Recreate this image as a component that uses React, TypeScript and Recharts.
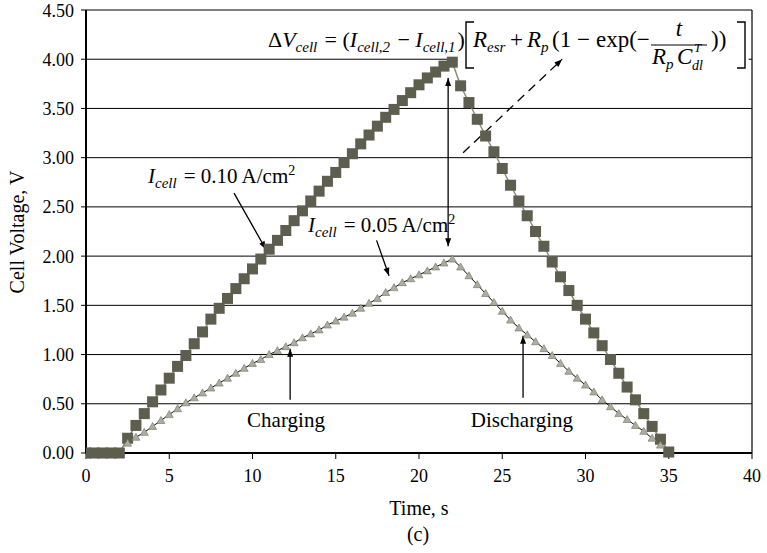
import React from 'react'
import {
  ComposedChart,
  Line,
  XAxis,
  YAxis,
  CartesianGrid,
  ReferenceLine,
  ReferenceArea,
} from 'recharts'

// time axis, s (0.5 s sampling)
const timeHigh = [
  0, 0.5, 1, 1.5, 2, 2.5, 3, 3.5, 4, 4.5, 5, 5.5, 6, 6.5, 7, 7.5, 8, 8.5, 9, 9.5,
  10, 10.5, 11, 11.5, 12, 12.5, 13, 13.5, 14, 14.5, 15, 15.5, 16, 16.5, 17, 17.5,
  18, 18.5, 19, 19.5, 20, 20.5, 21, 21.5, 22, 22.5, 23, 23.5, 24, 24.5, 25, 25.5,
  26, 26.5, 27, 27.5, 28, 28.5, 29, 29.5, 30, 30.5, 31, 31.5, 32, 32.5, 33, 33.5,
  34, 34.5, 35,
]
// I_cell = 0.10 A/cm2
const voltHigh = [
  0, 0, 0, 0, 0, 0.15, 0.28, 0.4, 0.52, 0.64, 0.76, 0.88, 0.99, 1.11, 1.23, 1.36,
  1.47, 1.57, 1.67, 1.77, 1.87, 1.97, 2.07, 2.16, 2.26, 2.36, 2.46, 2.56, 2.66,
  2.76, 2.85, 2.95, 3.04, 3.14, 3.23, 3.32, 3.41, 3.49, 3.58, 3.66, 3.74, 3.81,
  3.87, 3.93, 3.97, 3.73, 3.56, 3.39, 3.22, 3.06, 2.89, 2.72, 2.56, 2.41, 2.25,
  2.1, 1.94, 1.79, 1.65, 1.5, 1.36, 1.22, 1.09, 0.95, 0.81, 0.67, 0.54, 0.4, 0.27,
  0.14, 0.01,
]
const timeLow = [
  2.5, 3, 3.5, 4, 4.5, 5, 5.5, 6, 6.5, 7, 7.5, 8, 8.5, 9, 9.5, 10, 10.5, 11, 11.5,
  12, 12.5, 13, 13.5, 14, 14.5, 15, 15.5, 16, 16.5, 17, 17.5, 18, 18.5, 19, 19.5,
  20, 20.5, 21, 21.5, 22, 22.5, 23, 23.5, 24, 24.5, 25, 25.5, 26, 26.5, 27, 27.5,
  28, 28.5, 29, 29.5, 30, 30.5, 31, 31.5, 32, 32.5, 33, 33.5, 34, 34.5,
]
// I_cell = 0.05 A/cm2
const voltLow = [
  0.1, 0.16, 0.21, 0.27, 0.33, 0.39, 0.45, 0.51, 0.56, 0.61, 0.66, 0.71, 0.76,
  0.81, 0.86, 0.91, 0.95, 1.0, 1.04, 1.08, 1.12, 1.17, 1.21, 1.25, 1.3, 1.34,
  1.38, 1.42, 1.47, 1.52, 1.57, 1.63, 1.68, 1.73, 1.77, 1.81, 1.85, 1.89, 1.93,
  1.97, 1.89, 1.8, 1.71, 1.62, 1.53, 1.44, 1.35, 1.27, 1.2, 1.13, 1.06, 0.99,
  0.91, 0.83, 0.76, 0.69, 0.62, 0.54, 0.47, 0.4, 0.34, 0.28, 0.22, 0.15, 0.08,
]

const xTicks = [0, 5, 10, 15, 20, 25, 30, 35, 40]
const yTicks = [0, 0.5, 1, 1.5, 2, 2.5, 3, 3.5, 4, 4.5]

const highData = timeHigh.map((t, i) => ({ t, v: voltHigh[i] }))
const lowData = timeLow.map((t, i) => ({ t, v: voltLow[i] }))

const FONT = "'Liberation Serif', 'DejaVu Serif', serif"
const tickStyle = { fill: '#000', fontSize: 18, fontFamily: FONT }

const SquareDot = (p: any) => (
  <rect key={p.index} x={p.cx - 5.5} y={p.cy - 5.5} width={11} height={11} fill="#5e5e4f" />
)

const TriangleDot = (p: any) => (
  <polygon
    key={p.index}
    points={`${p.cx},${p.cy - 4} ${p.cx + 4},${p.cy + 3} ${p.cx - 4},${p.cy + 3}`}
    fill="#adad9f"
    stroke="#707063"
    strokeWidth={0.6}
  />
)

// line with filled arrow heads, endpoints come from ReferenceLine segment
const arrow = (start: boolean, end: boolean, dash?: string) => (p: any) => {
  const { x1, y1, x2, y2 } = p
  const ang = Math.atan2(y2 - y1, x2 - x1)
  const head = (x: number, y: number, a: number) => {
    const l = 8
    const w = 3
    const bx = x - l * Math.cos(a)
    const by = y - l * Math.sin(a)
    return `${x},${y} ${bx + w * Math.sin(a)},${by - w * Math.cos(a)} ${bx - w * Math.sin(a)},${by + w * Math.cos(a)}`
  }
  return (
    <g>
      <line x1={x1} y1={y1} x2={x2} y2={y2} stroke="#000" strokeWidth={1.3} strokeDasharray={dash} />
      {end && <polygon points={head(x2, y2, ang)} fill="#000" />}
      {start && <polygon points={head(x1, y1, ang + Math.PI)} fill="#000" />}
    </g>
  )
}

const Sub = ({ children, d = 5 }: any) => (
  <>
    <tspan dy={d} fontSize={15} fontStyle="italic">{children}</tspan>
    <tspan dy={-d}>{'\u200a'}</tspan>
  </>
)

const Overlay = () => (
  <svg
    width={767}
    height={553}
    style={{ position: 'absolute', left: 0, top: 0, pointerEvents: 'none' }}
    fontFamily={FONT}
  >
    {/* formula */}
    <text x={268} y={47} fontSize={22}>
      Δ<tspan fontStyle="italic">V</tspan>
      <Sub>cell</Sub>
      {' = ('}
      <tspan fontStyle="italic">I</tspan>
      <Sub>cell,2</Sub>
      {' − '}
      <tspan fontStyle="italic">I</tspan>
      <Sub>cell,1</Sub>)
    </text>
    <path d="M474,22 H466 V68 H474" fill="none" stroke="#000" strokeWidth={1.4} />
    <text y={47} fontSize={23}>
      <tspan x={473} fontStyle="italic">R</tspan>
      <tspan dy={5} fontSize={15} fontStyle="italic">esr</tspan>
      <tspan x={510} dy={-5}>+</tspan>
      <tspan x={527} fontStyle="italic">R</tspan>
      <tspan dy={5} fontSize={15} fontStyle="italic">p</tspan>
      <tspan x={552} dy={-5}>(1</tspan>
      <tspan x={577}>−</tspan>
      <tspan x={596}>exp(−</tspan>
    </text>
    <text x={679} y={36} fontSize={23} fontStyle="italic" textAnchor="middle">t</text>
    <line x1={651} y1={45} x2={707} y2={45} stroke="#000" strokeWidth={1} />
    <text fontSize={23} fontStyle="italic">
      <tspan x={652} y={64}>R</tspan>
      <tspan x={666} y={69} fontSize={15}>p</tspan>
      <tspan x={677} y={64}>C</tspan>
    </text>
    <text x={694} y={52} fontSize={13} fontStyle="italic">T</text>
    <text x={692} y={70} fontSize={14} fontStyle="italic">dl</text>
    <text x={711} y={47} fontSize={23}>))</text>
    <path d="M737,22 H745 V68 H737" fill="none" stroke="#000" strokeWidth={1.4} />

    {/* series labels */}
    <text x={148} y={183} fontSize={21}>
      <tspan fontStyle="italic">I</tspan>
      <Sub>cell</Sub>
      {' = 0.10 A/cm'}
      <tspan dy={-8} fontSize={14}>2</tspan>
    </text>
    <text x={308} y={232} fontSize={21}>
      <tspan fontStyle="italic">I</tspan>
      <Sub>cell</Sub>
      {' = 0.05 A/cm'}
      <tspan dy={-8} fontSize={14}>2</tspan>
    </text>
    <text x={286} y={427} fontSize={21} textAnchor="middle">Charging</text>
    <text x={522} y={427} fontSize={21} textAnchor="middle">Discharging</text>

    {/* axis titles */}
    <text x={419} y={515} fontSize={20} textAnchor="middle">Time, s</text>
    <text x={418} y={541} fontSize={20} textAnchor="middle">(c)</text>
    <text
      x={24}
      y={232}
      fontSize={20}
      textAnchor="middle"
      transform="rotate(-90 24 232)"
    >
      Cell Voltage, V
    </text>
  </svg>
)

export default function App() {
  return (
    <div
      style={{
        position: 'absolute',
        left: 0,
        top: 0,
        width: 767,
        height: 553,
        background: '#fff',
        fontFamily: FONT,
      }}
    >
      <ComposedChart
        width={767}
        height={553}
        margin={{ top: 10, right: 15, bottom: 0, left: 0 }}
      >
        <CartesianGrid vertical={false} stroke="#000" strokeWidth={1} />
        <XAxis
          type="number"
          dataKey="t"
          domain={[0, 40]}
          ticks={xTicks}
          height={100}
          tick={tickStyle}
          tickSize={6}
          tickMargin={10}
          axisLine={{ stroke: '#000', strokeWidth: 2 }}
          tickLine={{ stroke: '#000' }}
          allowDataOverflow
        />
        <YAxis
          type="number"
          domain={[0, 4.5]}
          ticks={yTicks}
          width={86}
          tick={tickStyle}
          tickSize={5}
          tickMargin={7}
          tickFormatter={(v: number) => v.toFixed(2)}
          axisLine={{ stroke: '#000', strokeWidth: 2 }}
          tickLine={{ stroke: '#000' }}
        />
        <ReferenceLine x={40} stroke="#000" strokeWidth={1.2} />
        {/* white box behind the bracketed part of the formula */}
        <ReferenceArea
          x1={22.3}
          x2={39.8}
          y1={3.85}
          y2={4.42}
          fill="#fff"
          fillOpacity={1}
          stroke="none"
        />
        <Line
          data={highData}
          dataKey="v"
          type="linear"
          stroke="#8b8b74"
          strokeWidth={1.5}
          dot={SquareDot}
          activeDot={false}
          isAnimationActive={false}
        />
        <Line
          data={lowData}
          dataKey="v"
          type="linear"
          stroke="#000"
          strokeWidth={1}
          dot={TriangleDot}
          activeDot={false}
          isAnimationActive={false}
        />
        <ReferenceLine segment={[{ x: 21.75, y: 3.81 }, { x: 21.75, y: 2.1 }]} shape={arrow(true, true)} />
        <ReferenceLine segment={[{ x: 22.65, y: 3.05 }, { x: 28.6, y: 4.0 }]} shape={arrow(false, true, '9 6')} />
        <ReferenceLine segment={[{ x: 8.89, y: 2.64 }, { x: 10.8, y: 2.07 }]} shape={arrow(false, true)} />
        <ReferenceLine segment={[{ x: 17.45, y: 2.16 }, { x: 18.2, y: 1.8 }]} shape={arrow(false, true)} />
        <ReferenceLine segment={[{ x: 12.26, y: 0.54 }, { x: 12.26, y: 1.06 }]} shape={arrow(false, true)} />
        <ReferenceLine segment={[{ x: 26.25, y: 0.56 }, { x: 26.25, y: 1.19 }]} shape={arrow(false, true)} />
      </ComposedChart>
      <Overlay />
    </div>
  )
}
